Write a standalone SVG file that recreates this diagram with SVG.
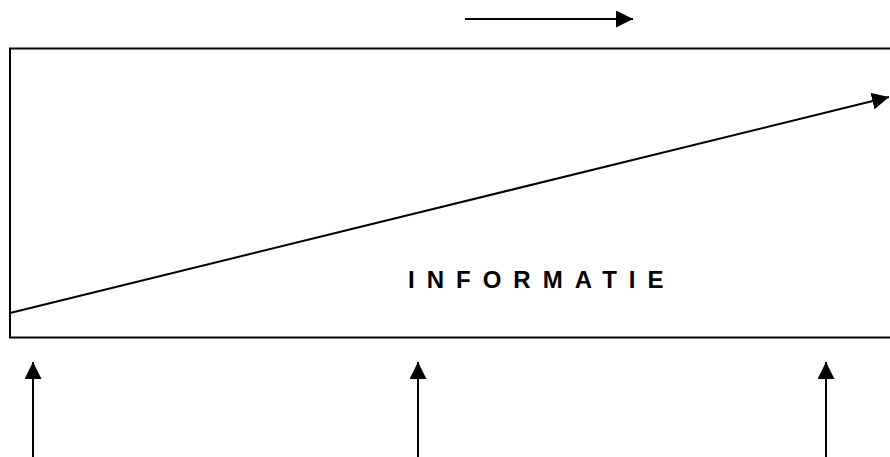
<svg xmlns="http://www.w3.org/2000/svg" width="890" height="457" viewBox="0 0 890 457">
<defs>
<style>
.ln{stroke:#000;stroke-width:2;fill:none}
.lbl{font-family:"Liberation Sans",Arial,sans-serif;font-weight:bold;font-size:24px;letter-spacing:12px;fill:#000}
</style>
<marker id="ah" markerUnits="userSpaceOnUse" markerWidth="17" markerHeight="17" viewBox="0 0 16 16" refX="16" refY="8" orient="auto">
<path d="M0,0 L16,8 L0,16 Z" fill="#000"/>
</marker>
</defs>
<rect width="890" height="457" fill="#fff"/>
<g id="box">
<rect class="ln" x="10" y="48.5" width="900" height="289"/>
<text class="lbl" x="408" y="288">INFORMATIE</text>
</g>
<g id="connectors">
<line class="ln" x1="465" y1="19" x2="633" y2="19" marker-end="url(#ah)"/>
<line class="ln" x1="10" y1="313" x2="889" y2="97" marker-end="url(#ah)"/>
<line class="ln" x1="33" y1="457" x2="33" y2="362" marker-end="url(#ah)"/>
<line class="ln" x1="418" y1="457" x2="418" y2="362" marker-end="url(#ah)"/>
<line class="ln" x1="826" y1="457" x2="826" y2="362" marker-end="url(#ah)"/>
</g>
</svg>
